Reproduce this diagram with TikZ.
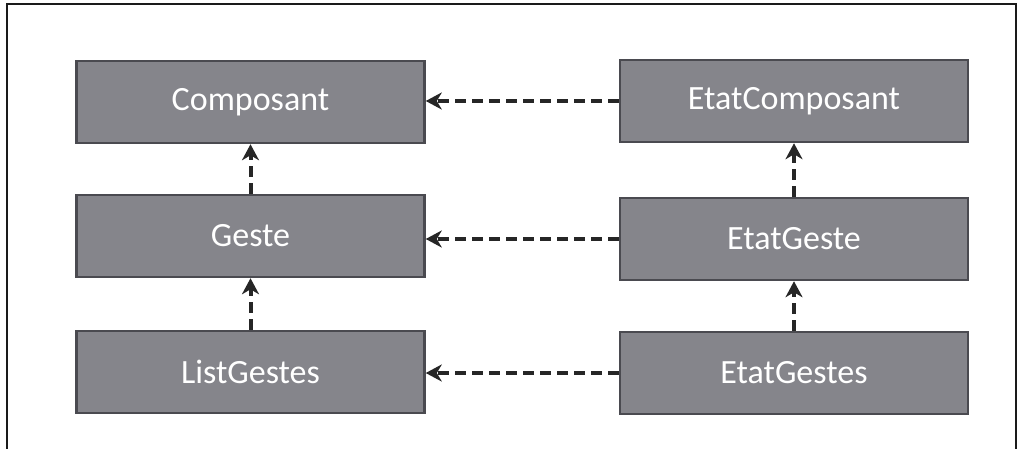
\documentclass[tikz,border=0pt]{standalone}
\usepackage{fontspec}
\setmainfont{Carlito}
\usetikzlibrary{arrows.meta}
\definecolor{boxfill}{HTML}{85858B}
\definecolor{boxedge}{HTML}{4A4A50}
\definecolor{framecol}{HTML}{1A1A1A}
\begin{document}
\begin{tikzpicture}[x=1pt,y=-1pt,
  classbox/.style={draw=boxedge,line width=2.5pt,fill=boxfill,minimum width=348pt,minimum height=82pt,
    inner sep=0pt,text=white,font=\fontsize{34}{34}\selectfont},
  dep/.style={draw=black!85,line width=4pt,dash pattern=on 11pt off 6pt,
    -{Stealth[length=16pt,width=17pt,inset=5pt]}}]
  \useasboundingbox (0,0) rectangle (1019,449);
  % outer frame
  \draw[framecol,line width=2pt] (7,449) -- (7,4) -- (1016,4) -- (1016,449);
  % class boxes
  \node[classbox] (comp) at (250.5,102) {Composant};
  \node[classbox] (geste) at (250.5,236) {Geste};
  \node[classbox] (list) at (250.5,372) {ListGestes};
  \node[classbox] (ecomp) at (794,101) {EtatComposant};
  \node[classbox] (egeste) at (794,239) {EtatGeste};
  \node[classbox] (egestes) at (794,373) {EtatGestes};
  % dependencies
  \draw[dep] (ecomp.west) -- (comp.east |- ecomp.west);
  \draw[dep] (egeste.west) -- (geste.east |- egeste.west);
  \draw[dep] (egestes.west) -- (list.east |- egestes.west);
  \draw[dep] (geste.north) -- (comp.south);
  \draw[dep] (list.north) -- (geste.south);
  \draw[dep] (egeste.north) -- (ecomp.south);
  \draw[dep] (egestes.north) -- (egeste.south);
\end{tikzpicture}
\end{document}
